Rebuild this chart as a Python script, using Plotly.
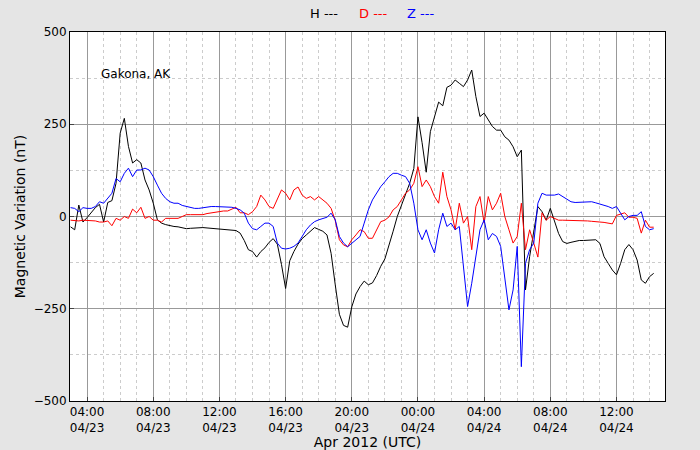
import pandas as pd
import plotly.graph_objects as go

# 15-minute samples, 2012-04-23 03:00 to 2012-04-24 14:15 UTC
times = pd.date_range("2012-04-23 03:00", "2012-04-24 14:15", freq="15min")

h_nt = [-28, -36, 31, -15, -3, 10, 24, 33, -15, 38, 43, 90,
        226, 266, 190, 145, 154, 145, 99, 72, 36, -9, -18, -22,
        -25, -27, -28, -30, -33, -32, -31, -30, -30, -31, -32, -32,
        -32, -33, -35, -36, -38, -45, -65, -90, -95, -110, -95, -85,
        -70, -60, -75, -130, -195, -120, -95, -75, -60, -50, -40, -30,
        -35, -40, -50, -100, -185, -265, -295, -300, -245, -210, -190, -175,
        -185, -180, -160, -135, -115, -80, -40, 0, 30, 60, 90, 130,
        270, 200, 120, 230, 270, 310, 300, 350, 356, 370, 361, 352,
        370, 397, 325, 271, 280, 262, 244, 234, 234, 216, 207, 189,
        162, 180, -199, -109, -36, 27, 13, -10, 22, -10, -46, -68,
        -73, -70, -67, -65, -65, -64, -63, -63, -73, -109, -127, -145,
        -158, -127, -90, -76, -90, -118, -172, -181, -163, -154]

d_nt = [-10, -12, -12, -10, -10, -11, -12, -15, -15, -12, -25, -5,
        -10, 0, -5, 20, 10, 25, -5, 0, -10, -10, -15, -5,
        -5, -5, -5, 0, 5, 5, 5, 5, 5, 8, 10, 12,
        15, 15, 15, 20, 25, 10, 10, 5, 13, 27, 58, 45,
        27, 22, 49, 72, 63, 45, 72, 80, 58, 49, 54, 45,
        54, 45, 36, 22, -11, -63, -77, -82, -63, -50, -36, -41,
        -59, -59, -36, -14, -10, -1, 18, 27, 45, 63, 72, 90,
        135, 81, 99, 81, 54, 36, 120, 54, 18, -36, 36, -18,
        0, -90, 27, 54, -18, 54, 18, 36, 63, 0, -36, -72,
        -54, 36, -90, -36, -72, -110, 10, -10, 0, -5, -10, -10,
        -10, -10, -11, -11, -12, -12, -13, -13, -15, -16, -18, -20,
        3, 7, 10, -2, -2, -5, -45, -10, -29, -29]

z_nt = [24, 22, 13, 24, 22, 22, 27, 40, 36, 49, 63, 103,
        94, 117, 131, 108, 126, 126, 131, 126, 108, 85, 63, 49,
        40, 36, 36, 30, 27, 25, 22, 22, 24, 26, 27, 27,
        27, 27, 27, 25, 22, 18, 9, -18, -33, -36, -27, -18,
        -18, -27, -72, -86, -88, -86, -81, -72, -54, -36, -23, -14,
        -9, -5, -2, 9, -9, -54, -72, -82, -72, -63, -54, -18,
        18, 45, 63, 81, 94, 108, 117, 117, 112, 108, 90, 36,
        -36, -63, -36, -72, -99, -36, 9, -27, -18, -36, -27, -127,
        -244, -181, -109, -36, -9, -63, -46, -54, -81, -172, -253, -199,
        -81, -407, -127, -90, -72, 36, 63, 58, 58, 58, 61, 54,
        45, 40, 38, 38, 40, 40, 40, 37, 34, 30, 27, 22,
        27, 9, -9, 0, 3, 3, 13, -27, -36, -33]

tick_times = pd.date_range("2012-04-23 04:00", "2012-04-24 12:00", freq="4h")
tick_text = [t.strftime("%H:%M<br>%m/%d") for t in tick_times]

fig = go.Figure()
for vals, col in [(h_nt, "#000000"), (d_nt, "#ff0000"), (z_nt, "#0000ff")]:
    fig.add_trace(go.Scatter(x=times, y=vals, mode="lines",
                             line=dict(color=col, width=1), showlegend=False))

font = dict(family="DejaVu Sans", size=12, color="#000000")
fig.update_layout(
    template="none",
    width=700, height=450,
    paper_bgcolor="#e5e5e5", plot_bgcolor="white",
    margin=dict(l=70, r=35, t=32, b=49),
    font=font,
)
fig.update_xaxes(
    range=["2012-04-23 02:58", "2012-04-24 14:56"], automargin=False,
    tickvals=tick_times, ticktext=tick_text,
    showgrid=True, gridcolor="#999999", gridwidth=1,
    minor=dict(dtick=3600000, showgrid=True, gridcolor="#cccccc", griddash="dot"),
    showline=True, linecolor="black", mirror=True, ticks="inside", ticklen=4,
    title=dict(text="Apr 2012 (UTC)", standoff=0), zeroline=False,
)
fig.update_yaxes(
    range=[-500, 500], automargin=False, tickvals=[-500, -250, 0, 250, 500],
    showgrid=True, gridcolor="#999999", gridwidth=1,
    minor=dict(tickvals=[-375, -125, 125, 375], showgrid=True,
               gridcolor="#cccccc", griddash="dot"),
    showline=True, linecolor="black", mirror=True, ticks="inside", ticklen=4,
    title=dict(text="Magnetic Variation (nT)", standoff=4), zeroline=False,
)

for txt, col, xp in [("H ---", "#000000", 308), ("D ---", "#ff0000", 357), ("Z ---", "#0000ff", 405)]:
    fig.add_annotation(text=txt, x=(xp - 70) / 595, y=1 + (32 - 13) / 369,
                       xref="paper", yref="paper",
                       xanchor="left", yanchor="middle", showarrow=False,
                       font=dict(family="DejaVu Sans", size=13, color=col))
fig.add_annotation(text="Gakona, AK", x=(99 - 70) / 595, y=1 - (74 - 32) / 369,
                   xref="paper", yref="paper", xanchor="left", yanchor="middle",
                   showarrow=False, font=dict(family="DejaVu Sans", size=12, color="#000000"))

fig.write_html("out.html", config={"displayModeBar": False},
               post_script="document.body.style.margin='0';")
